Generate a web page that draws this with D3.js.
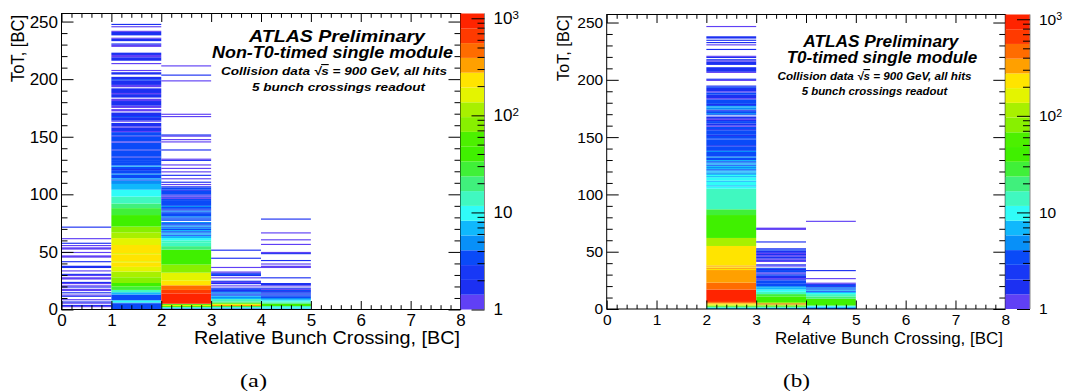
<!DOCTYPE html>
<html>
<head>
<meta charset="utf-8">
<script src="https://cdn.jsdelivr.net/npm/d3@7"></script>
<style>
  body { margin: 0; background: #fff; }
  text { font-family: "Liberation Sans", Arial, Helvetica, sans-serif; }
</style>
</head>
<body>
<svg id="fig" width="1065" height="392"></svg>
<script>
// axis values
var bcTicks = d3.range(0, 9);                 // Relative Bunch Crossing, [BC]
var totTicks = [0, 50, 100, 150, 200, 250];   // ToT, [BC]
var totMax = 257;
var zTicks = [1, 10, 100, 1000];
var zMax = 1120;

// ROOT palette, 20 contour levels, bottom -> top
var palette = ["#6040f5", "#1c30f2", "#1838f6", "#0a4af8", "#0890f8", "#10b8fc", "#30fcf8",
  "#40f8c0", "#40f07c", "#40f038", "#40f000", "#4cf000", "#88f000", "#a8f000", "#e4f400",
  "#ffe400", "#ffa000", "#ff6c00", "#ff3a00", "#ff2400"];

// hits per ToT bin, as runs: [ToT from, ToT to, hits]
// (a) non-T0-timed module
var nonT0_bc0 = [[2,2,1],[3,3,2],[5,5,1],[6,6,2],[8,8,1],[11,11,2],[12,12,1],[14,14,2],[16,17,1],
  [19,19,2],[20,20,1],[22,22,1],[23,23,2],[26,27,1],[29,29,1],[30,30,2],[33,33,1],[36,37,2],
  [41,41,2],[45,46,1],[49,49,1],[52,53,1],[55,55,1],[57,57,2],[61,61,1],[71,71,2]];
var nonT0_bc1 = [[0,4,3],[5,5,4],[6,7,10],[8,12,3],[13,14,7],[15,16,15],[17,19,24],[20,22,40],
  [23,27,70],[28,32,110],[33,36,160],[37,40,215],[41,41,165],[42,47,230],[48,48,170],[49,55,220],
  [56,61,160],[62,66,105],[67,71,75],[72,81,45],[82,87,32],[88,91,23],[92,97,16],[98,103,11],
  [104,108,7],[109,111,5],[112,112,4],[113,113,6],[114,116,3],[117,117,5],[118,120,4],[121,121,2],
  [122,123,4],[124,124,6],[125,127,3],[128,128,4],[129,131,3],[132,132,2],[133,137,3],[138,138,2],
  [139,144,3],[145,145,1],[146,149,3],[150,150,2],[151,153,3],[154,154,1],[155,157,2],[158,158,1],
  [159,161,2],[163,163,1],[164,166,2],[167,167,3],[168,170,2],[172,173,1],[175,176,1],[177,180,2],
  [181,182,1],[184,186,2],[187,187,1],[188,191,2],[193,194,1],[195,198,2],[199,199,3],[200,201,2],
  [204,205,2],[207,207,1],[213,213,1],[216,218,2],[219,220,1],[221,222,2],[228,229,1],[230,230,2],
  [233,234,2],[235,235,1],[238,240,2],[241,241,1],[245,245,1],[247,247,2]];
var nonT0_bc2 = [[0,0,4],[1,1,10],[2,2,40],[3,3,180],[4,4,50],[5,13,800],[14,16,600],[17,20,400],
  [21,24,230],[25,31,170],[32,38,85],[39,51,45],[52,54,20],[55,57,15],[58,59,12],[60,61,9],
  [62,62,7],[63,63,6],[64,64,4],[65,65,7],[66,66,5],[67,67,3],[68,68,6],[69,69,4],[70,70,5],
  [71,71,3],[72,72,7],[73,73,4],[74,74,3],[75,75,5],[77,77,3],[78,78,4],[79,79,3],[80,80,5],
  [81,82,3],[83,83,4],[84,84,3],[85,85,5],[86,86,2],[87,87,4],[88,88,3],[89,89,5],[90,94,3],
  [95,95,4],[96,96,1],[97,97,2],[98,98,1],[99,99,2],[100,102,3],[103,103,2],[104,105,3],
  [106,106,2],[108,108,1],[110,110,2],[113,113,1],[116,116,2],[119,119,1],[122,122,1],
  [125,125,1],[129,129,2],[130,130,1],[138,138,2],[145,145,1],[147,147,1],[150,150,1],
  [151,151,2],[167,167,1],[169,169,1],[198,198,1],[203,203,2],[211,211,1]];
var nonT0_bc3 = [[0,0,4],[1,1,10],[2,2,30],[3,3,350],[4,4,150],[5,5,50],[6,6,20],[7,8,12],[9,9,7],
  [10,10,5],[11,11,6],[12,12,4],[13,13,3],[14,14,5],[15,15,3],[16,16,2],[17,17,3],[18,18,2],
  [20,20,1],[22,22,2],[23,23,1],[24,24,2],[27,27,1],[29,29,2],[30,30,3],[31,31,2],[32,32,1],
  [36,36,1],[44,44,2],[51,51,2]];
var nonT0_bc4 = [[0,0,6],[1,1,10],[2,2,14],[3,4,40],[5,5,20],[6,6,15],[7,7,10],[8,8,7],[9,9,5],
  [10,10,4],[11,11,3],[12,12,4],[13,13,2],[14,14,3],[15,15,2],[16,16,3],[17,17,1],[18,18,2],
  [20,20,1],[21,22,2],[27,27,2],[36,37,1],[39,39,1],[42,42,2],[48,48,2],[49,49,1],[56,56,1],
  [60,60,1],[66,66,1],[78,78,2]];

// (b) T0-timed module
var t0_bc2 = [[0,0,6],[1,1,15],[2,2,50],[3,3,150],[4,4,250],[5,5,400],[6,6,560],[7,16,850],
  [17,22,430],[23,33,320],[34,34,210],[35,35,330],[36,36,210],[37,37,340],[38,54,215],[55,61,110],
  [62,81,45],[82,86,24],[87,95,16],[96,104,12],[105,106,10],[107,107,8],[108,110,11],[111,111,7],
  [112,114,10],[115,115,6],[116,116,9],[117,117,7],[118,118,5],[119,119,8],[120,120,6],[121,121,4],
  [122,122,7],[123,123,5],[124,124,6],[125,125,4],[126,126,7],[127,127,5],[128,128,3],[129,129,6],
  [130,131,4],[132,132,5],[133,136,3],[137,137,5],[138,141,4],[142,142,2],[143,147,3],[148,148,4],
  [149,150,3],[151,151,2],[152,155,3],[156,156,2],[157,158,3],[159,159,1],[160,161,2],[162,163,3],
  [164,164,2],[165,165,1],[166,167,2],[169,169,3],[170,170,5],[171,171,3],[172,172,4],[173,173,2],
  [174,175,5],[176,176,7],[177,177,3],[178,178,2],[179,182,3],[183,183,1],[184,186,2],[187,188,3],
  [189,189,1],[190,192,2],[193,193,3],[194,194,2],[199,199,1],[200,200,2],[206,206,1],[207,210,2],
  [213,215,2],[216,216,1],[217,217,2],[219,219,2],[220,220,1],[226,226,2],[230,230,1],[232,232,2],
  [234,234,2],[236,237,2],[246,246,1]];
var t0_bc3 = [[0,0,5],[1,1,15],[2,2,40],[3,3,110],[4,4,500],[5,5,70],[6,10,45],[11,12,24],
  [13,14,15],[15,16,11],[17,18,7],[19,19,5],[20,21,4],[22,24,3],[25,25,2],[26,26,1],[27,28,2],
  [29,29,3],[30,30,2],[31,31,1],[32,33,3],[34,34,2],[35,35,3],[37,37,1],[38,38,2],[41,41,1],
  [42,42,2],[43,43,1],[44,45,2],[46,46,1],[47,47,2],[48,48,1],[49,50,2],[51,51,3],[52,52,2],
  [58,58,2],[69,70,1]];
var t0_bc4 = [[0,0,3],[1,1,7],[2,2,11],[3,8,40],[9,10,22],[11,12,15],[13,13,9],[14,14,6],
  [15,15,4],[16,16,6],[17,17,3],[18,18,5],[19,19,2],[20,20,3],[21,21,2],[22,22,1],[26,26,1],
  [33,33,2],[76,76,1]];

var collisionText = ["Collision data ", "\u221A", "s", " = 900 GeV, all hits"];

var panels = [
  { cols: [[0, nonT0_bc0], [1, nonT0_bc1], [2, nonT0_bc2], [3, nonT0_bc3], [4, nonT0_bc4]],
    left: 61.5, right: 460.5, top: 13.5, bottom: 309.5, font: 17, cbRight: 484.5,
    xTitle: {x: 460, y: 344, fs: 18, w: 266}, yTitle: {x: 23.5, y: 15, fs: 17.5, w: 67},
    caption: {t: "(a)", x: 253.5, y: 387, w: 27},
    info: [{t: "ATLAS Preliminary", x: 337, y: 42.3, fs: 17, w: 176},
           {t: "Non-T0-timed single module", x: 332.5, y: 58.3, fs: 16, w: 241},
           {t: collisionText, x: 334, y: 75, fs: 11.5, w: 226},
           {t: "5 bunch crossings readout", x: 338.5, y: 91, fs: 11.5, w: 173}] },
  { cols: [[2, t0_bc2], [3, t0_bc3], [4, t0_bc4]],
    left: 606.7, right: 1005.3, top: 14.5, bottom: 309, font: 15.5, cbRight: 1030,
    xTitle: {x: 1003, y: 343.5, fs: 16.5, w: 228}, yTitle: {x: 568.5, y: 15, fs: 16.5, w: 66},
    caption: {t: "(b)", x: 796.5, y: 387, w: 27},
    info: [{t: "ATLAS Preliminary", x: 880.8, y: 46.7, fs: 16, w: 155},
           {t: "T0-timed single module", x: 882, y: 62.7, fs: 16, w: 190.6},
           {t: collisionText, x: 874.5, y: 80, fs: 11.5, w: 194},
           {t: "5 bunch crossings readout", x: 874.5, y: 95, fs: 11, w: 145.6}] }
];

var svg = d3.select("#fig");
var zColor = d3.scaleQuantize().domain([0, Math.log10(zMax)]).range(palette);

function drawPanel(p) {
  var g = svg.append("g");
  var x = d3.scaleLinear().domain([0, 8]).range([p.left, p.right]);
  var y = d3.scaleLinear().domain([0, totMax]).range([p.bottom, p.top]);

  // histogram cells
  p.cols.forEach(function(c) {
    g.append("g").selectAll("rect").data(c[1]).join("rect")
      .attr("x", x(c[0]))
      .attr("width", x(c[0] + 1) - x(c[0]))
      .attr("y", d => y(d[1] + 1))
      .attr("height", d => y(d[0]) - y(d[1] + 1))
      .attr("fill", d => zColor(Math.log10(d[2])));
  });

  // frame
  g.append("rect")
    .attr("x", p.left).attr("y", p.top)
    .attr("width", p.right - p.left).attr("height", p.bottom - p.top)
    .attr("fill", "none").attr("stroke", "#000").attr("stroke-width", 1);

  var notInt = v => Math.abs(v - Math.round(v)) > 1e-6;
  var xMinor = d3.ticks(0, 8, 40).filter(notInt);
  var yMinor = d3.range(0, totMax, 10).filter(v => v % 50 !== 0);

  function axisG(axis, tx, ty) {
    var a = g.append("g").attr("transform", "translate(" + tx + "," + ty + ")").call(axis);
    a.select(".domain").remove();
    a.attr("font-size", p.font).attr("font-family", "Liberation Sans, Arial, sans-serif");
    return a;
  }
  // bottom / top
  axisG(d3.axisBottom(x).tickValues(bcTicks).tickSizeInner(-8.5).tickSizeOuter(0)
    .tickPadding(4.5).tickFormat(d3.format("d")), 0, p.bottom);
  axisG(d3.axisBottom(x).tickValues(xMinor).tickSizeInner(-4.3).tickSizeOuter(0).tickFormat(""), 0, p.bottom);
  axisG(d3.axisTop(x).tickValues(bcTicks).tickSizeInner(-8.5).tickSizeOuter(0).tickFormat(""), 0, p.top);
  axisG(d3.axisTop(x).tickValues(xMinor).tickSizeInner(-4.3).tickSizeOuter(0).tickFormat(""), 0, p.top);
  // left / right
  axisG(d3.axisLeft(y).tickValues(totTicks).tickSizeInner(-12).tickSizeOuter(0)
    .tickPadding(3.5).tickFormat(d3.format("d")), p.left, 0);
  axisG(d3.axisLeft(y).tickValues(yMinor).tickSizeInner(-6).tickSizeOuter(0).tickFormat(""), p.left, 0);
  axisG(d3.axisRight(y).tickValues(totTicks).tickSizeInner(-12).tickSizeOuter(0).tickFormat(""), p.right, 0);
  axisG(d3.axisRight(y).tickValues(yMinor).tickSizeInner(-6).tickSizeOuter(0).tickFormat(""), p.right, 0);

  // colour bar
  var z = d3.scaleLog().domain([1, zMax]).range([p.bottom, p.top]);
  var edges = [0].concat(zColor.thresholds(), [Math.log10(zMax)]);
  g.append("g").selectAll("rect").data(palette).join("rect")
    .attr("x", p.right).attr("width", p.cbRight - p.right)
    .attr("y", (c, i) => z(Math.pow(10, edges[i + 1])))
    .attr("height", (c, i) => z(Math.pow(10, edges[i])) - z(Math.pow(10, edges[i + 1])))
    .attr("fill", c => c);
  g.append("line")
    .attr("x1", p.cbRight).attr("x2", p.cbRight).attr("y1", p.top).attr("y2", p.bottom)
    .attr("stroke", "#888").attr("stroke-width", 1);
  var zMinor = z.ticks().filter(v => zTicks.indexOf(v) < 0);
  axisG(d3.axisLeft(z).tickValues(zTicks).tickSizeInner(13).tickSizeOuter(0).tickFormat(""), p.cbRight, 0);
  axisG(d3.axisLeft(z).tickValues(zMinor).tickSizeInner(7).tickSizeOuter(0).tickFormat(""), p.cbRight, 0);

  var zl = g.append("g").selectAll("text").data(zTicks).join("text")
    .attr("x", p.cbRight + 9).attr("y", d => z(d)).attr("dy", "0.35em")
    .attr("font-size", p.font);
  zl.append("tspan").text(d => d < 100 ? String(d) : "10");
  zl.filter(d => d >= 100).append("tspan")
    .attr("dy", "-0.45em").attr("font-size", p.font * 0.68)
    .text(d => String(Math.round(Math.log10(d))));

  // axis titles
  g.append("text")
    .attr("x", p.xTitle.x).attr("y", p.xTitle.y)
    .attr("text-anchor", "end").attr("font-size", p.xTitle.fs)
    .attr("textLength", p.xTitle.w).attr("lengthAdjust", "spacingAndGlyphs")
    .text("Relative Bunch Crossing, [BC]");
  g.append("text")
    .attr("transform", "translate(" + p.yTitle.x + "," + p.yTitle.y + ") rotate(-90)")
    .attr("text-anchor", "end").attr("font-size", p.yTitle.fs)
    .attr("textLength", p.yTitle.w).attr("lengthAdjust", "spacingAndGlyphs")
    .text("ToT, [BC]");

  // label block
  p.info.forEach(function(l) {
    var t = g.append("text")
      .attr("x", l.x).attr("y", l.y)
      .attr("text-anchor", "middle").attr("font-size", l.fs)
      .attr("font-weight", "bold").attr("font-style", "italic")
      .attr("textLength", l.w).attr("lengthAdjust", "spacingAndGlyphs");
    if (Array.isArray(l.t)) {
      l.t.forEach(function(s, i) {
        var ts = t.append("tspan").text(s);
        if (i === 2) ts.style("text-decoration", "overline");
      });
    } else {
      t.text(l.t);
    }
  });

  // caption
  svg.append("text")
    .attr("x", p.caption.x).attr("y", p.caption.y)
    .attr("text-anchor", "middle").attr("font-size", 19.5)
    .attr("textLength", p.caption.w).attr("lengthAdjust", "spacingAndGlyphs")
    .style("font-family", "'Liberation Serif', 'Times New Roman', serif")
    .text(p.caption.t);
}

panels.forEach(drawPanel);
</script>
</body>
</html>
